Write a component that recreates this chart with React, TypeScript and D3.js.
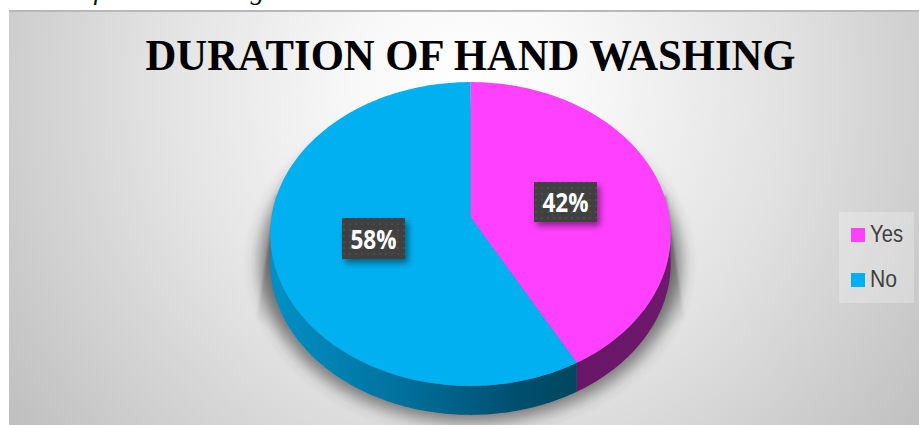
import React from "react";
import * as d3 from "d3";

const title = "DURATION OF HAND WASHING";
const caption = "ration of hand washing in Seconds";
const categories = ["Yes", "No"];
const values = [42, 58];
const topColors = ["#FF40FF", "#00B0F0"];
const labels = ["42%", "58%"];

const W = 919, H = 425;
const cx = 470.5, cy = 217, a = 199, b = 150, k = 0.1118, depth = 29;

// circle -> perspective-projected ellipse
const project = (ang: number, dz = 0, s = 1): [number, number] => {
  const u = Math.sin(ang), v = -Math.cos(ang);
  const d = 1 - k * v;
  return [cx + (s * a * u) / d, cy + (s * b * v) / d + dz];
};
const line = d3.line<[number, number]>().x(d => d[0]).y(d => d[1]);
const samples = (s: number, e: number) => {
  const n = Math.max(2, Math.ceil(Math.abs(e - s) * 60));
  return d3.range(n + 1).map(i => s + ((e - s) * i) / n);
};

export default function App() {
  const arcs = d3.pie<number>().sort(null)(values);
  const sliceTop = (s: number, e: number) =>
    line([[cx, cy], ...samples(s, e).map(t => project(t))])! + "Z";
  const wall = (s: number, e: number) => {
    const ts = samples(s, e);
    return line([...ts.map(t => project(t)), ...ts.slice().reverse().map(t => project(t, depth))])! + "Z";
  };
  const frontStart = Math.PI / 2 + 0.06, frontEnd = (3 * Math.PI) / 2 - 0.06;
  const clampWall = (s: number, e: number) => {
    const ss = Math.max(s, frontStart), ee = Math.min(e, frontEnd);
    return ss < ee ? wall(ss, ee) : null;
  };
  const bottomShadow = line(samples(0, 2 * Math.PI).map(t => project(t, 28, 1.05)))! + "Z";
  const wedgeL = line([[276, 195], [257, 318], [285, 340], [320, 240]])! + "Z";
  const wedgeR = line([[666, 195], [684, 318], [655, 340], [620, 240]])! + "Z";
  const boxes = [
    { x: 534, y: 182, w: 63, h: 40 },
    { x: 342, y: 218, w: 63, h: 41 },
  ];
  return (
    <svg width={W} height={H} style={{ position: "absolute", left: 0, top: 0, display: "block" }}>
      <defs>
        <radialGradient id="bg" gradientUnits="userSpaceOnUse" cx={470} cy={90} r={570}>
          <stop offset="0" stopColor="#ffffff" />
          <stop offset="0.2" stopColor="#f8f8f8" />
          <stop offset="0.55" stopColor="#e2e2e2" />
          <stop offset="1" stopColor="#bfbfbf" />
        </radialGradient>
        <linearGradient id="wall0" gradientUnits="userSpaceOnUse" x1={575} x2={670} y1={0} y2={0}>
          <stop offset="0" stopColor="#6A1668" />
          <stop offset="1" stopColor="#6E1A6C" />
        </linearGradient>
        <linearGradient id="wall1" gradientUnits="userSpaceOnUse" x1={272} x2={575} y1={0} y2={0}>
          <stop offset="0" stopColor="#0090C6" />
          <stop offset="0.45" stopColor="#006F9A" />
          <stop offset="0.8" stopColor="#004F70" />
          <stop offset="1" stopColor="#00475F" />
        </linearGradient>
        <linearGradient id="wedgeFadeL" gradientUnits="userSpaceOnUse" x1={280} y1={260} x2={255} y2={320}>
          <stop offset="0" stopColor="#666" stopOpacity={0.5} />
          <stop offset="1" stopColor="#666" stopOpacity={0.04} />
        </linearGradient>
        <linearGradient id="wedgeFadeR" gradientUnits="userSpaceOnUse" x1={660} y1={260} x2={686} y2={320}>
          <stop offset="0" stopColor="#666" stopOpacity={0.5} />
          <stop offset="1" stopColor="#666" stopOpacity={0.04} />
        </linearGradient>
        <filter id="shadowBlur" x="-20%" y="-20%" width="140%" height="140%">
          <feGaussianBlur stdDeviation="8" />
        </filter>
        <filter id="wedgeBlur" x="-30%" y="-10%" width="160%" height="120%">
          <feGaussianBlur stdDeviation="1.2" />
        </filter>
        <filter id="boxShadow" x="-30%" y="-30%" width="170%" height="170%">
          <feGaussianBlur stdDeviation="3" />
        </filter>
        <pattern id="dots" width="6" height="6" patternUnits="userSpaceOnUse">
          <rect width="6" height="6" fill="#404040" />
          <rect x="1" y="1" width="2" height="2" fill="#4c4c4c" />
        </pattern>
      </defs>
      <rect width={W} height={H} fill="#fff" />
      <text x={4} y={-1} fontFamily="'Liberation Serif'" fontStyle="italic" fontSize={28} fill="#111">{caption}</text>
      <rect x={9} y={11} width={W - 9} height={H - 11} fill="url(#bg)" />
      <rect x={9} y={10} width={W - 9} height={2} fill="#b8b8b8" />
      <text x={470.5} y={70} textAnchor="middle" fontFamily="'Liberation Serif'" fontWeight="bold" fontSize={44} fill="#000" textLength={650} lengthAdjust="spacingAndGlyphs">{title}</text>

      <path d={wedgeL} fill="url(#wedgeFadeL)" filter="url(#wedgeBlur)" />
      <path d={wedgeR} fill="url(#wedgeFadeR)" filter="url(#wedgeBlur)" />
      <path d={bottomShadow} fill="#333" opacity={0.6} filter="url(#shadowBlur)" />
      {arcs.map((d, i) => {
        const p = clampWall(d.startAngle, d.endAngle);
        return p ? <path key={i} d={p} fill={`url(#wall${i})`} /> : null;
      })}
      {arcs.map((d, i) => (
        <path key={i} d={sliceTop(d.startAngle, d.endAngle)} fill={topColors[i]} />
      ))}
      {boxes.map((r, i) => (
        <g key={i}>
          <rect x={r.x + 3} y={r.y + 4} width={r.w} height={r.h} fill="#000" opacity={0.45} filter="url(#boxShadow)" />
          <rect x={r.x} y={r.y} width={r.w} height={r.h} fill="url(#dots)" />
          <text x={r.x + r.w / 2} y={r.y + r.h / 2 + 10} textAnchor="middle" fontFamily="'Open Sans'" fontWeight="bold" fontSize={27} fill="#fff" textLength={46} lengthAdjust="spacingAndGlyphs">{labels[i]}</text>
        </g>
      ))}
      <rect x={839} y={212} width={75} height={91} fill="#fff" opacity={0.25} />
      {categories.map((c, i) => {
        const y = 228 + i * 45;
        return (
          <g key={c}>
            <rect x={851} y={y} width={14} height={14} fill={topColors[i]} />
            <text x={870} y={y + 14} fontFamily="'Liberation Sans'" fontSize={24} fill="#404040" textLength={i === 0 ? 33 : 27} lengthAdjust="spacingAndGlyphs">{c}</text>
          </g>
        );
      })}
    </svg>
  );
}
